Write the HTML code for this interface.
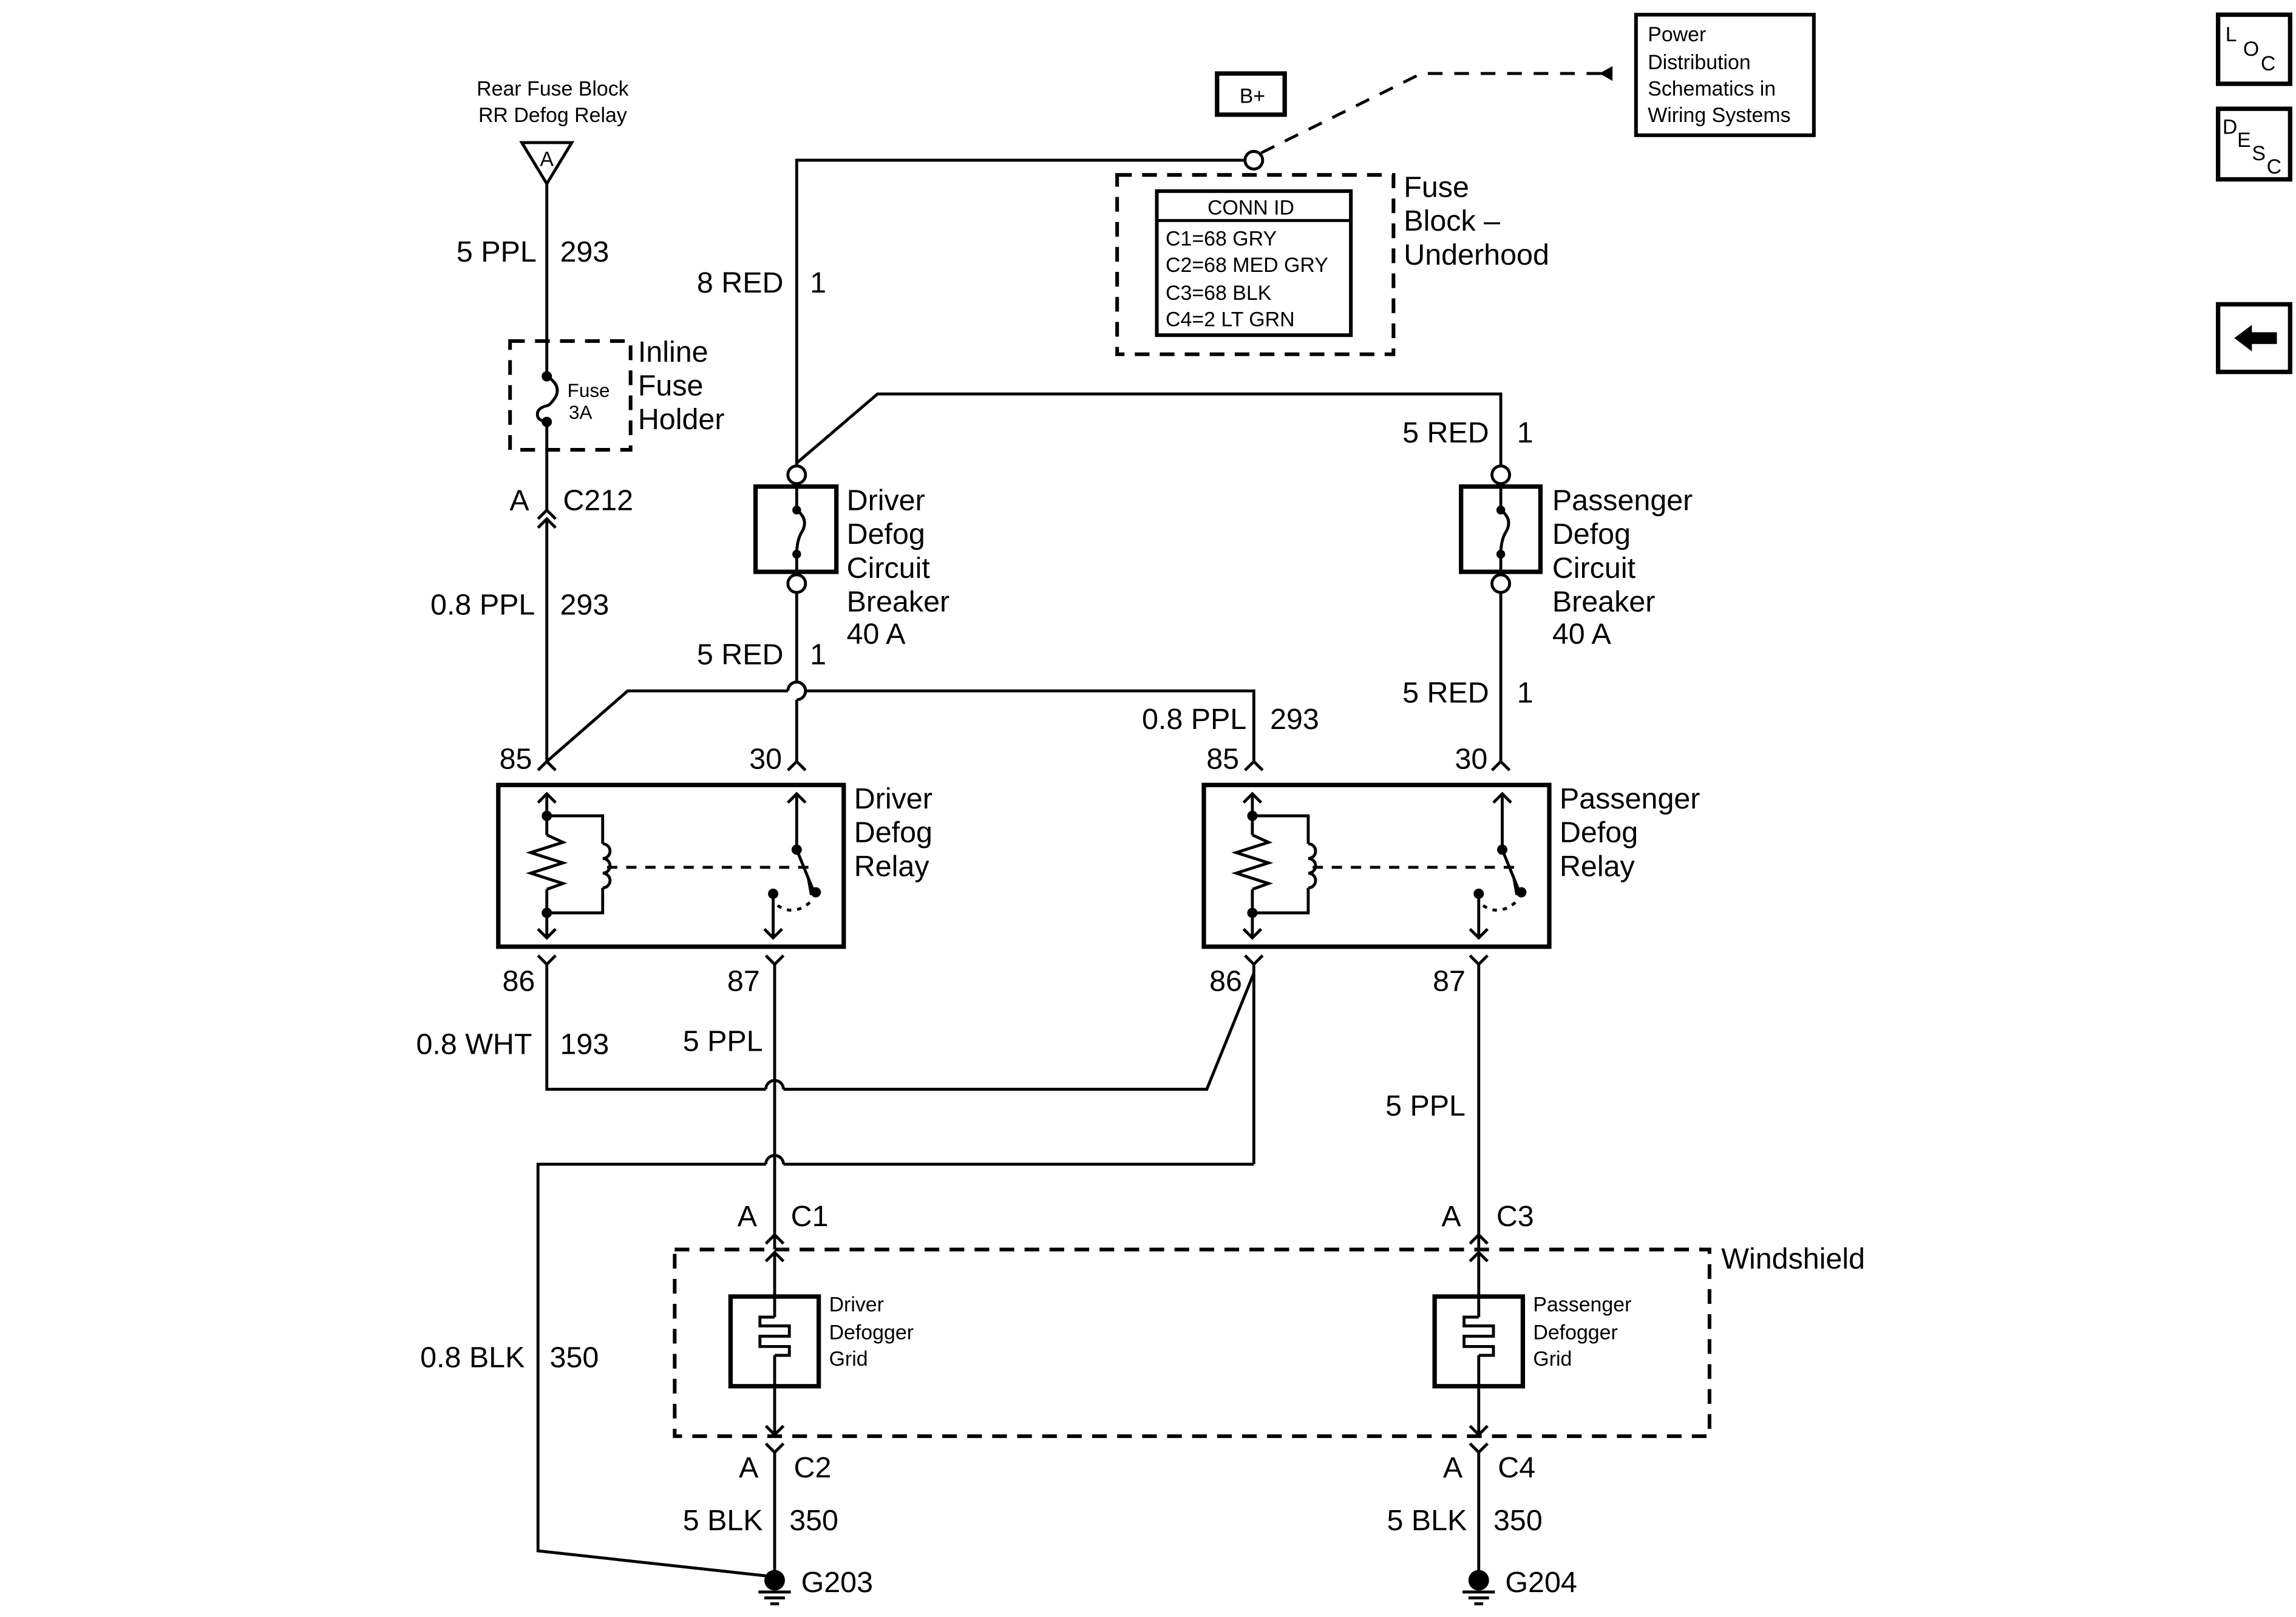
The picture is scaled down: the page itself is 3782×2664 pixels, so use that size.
<!DOCTYPE html>
<html><head><meta charset="utf-8"><style>
html,body{margin:0;padding:0;background:#fff}
svg{display:block}
text{font-family:"Liberation Sans",Arial,sans-serif;fill:#000}
.b{font-size:20px}.s{font-size:14px}
</style></head><body>
<svg width="3782" height="2664" viewBox="0 0 1562 1100" preserveAspectRatio="none" xmlns="http://www.w3.org/2000/svg">
<rect width="1562" height="1100" fill="#fff"/>
<g fill="none" stroke="#000" stroke-width="2">
<!-- rear fuse feed -->
<polygon points="355,97 389,97 372,125"/>
<line x1="372" y1="125" x2="372" y2="256"/>
<path d="M372,256 q10,6 6,14 q-4,6 -6,6 q-8,2 -6,8 q2,3 6,2"/>
<line x1="372" y1="287" x2="372" y2="347"/>
<polyline points="366,353 372,347 378,353"/>
<polyline points="366,359 372,353 378,359"/>
<line x1="372" y1="353" x2="372" y2="518"/>
<rect x="347" y="232" width="82" height="74" stroke-dasharray="10,7" stroke-width="2.5"/>
<!-- B+ and top -->
<rect x="828" y="50" width="46" height="28" stroke-width="3"/>
<circle cx="853" cy="109" r="6" fill="#fff"/>
<polyline points="847,109 542,109 542,317"/>
<polyline points="858,104 967,50 1092,50" stroke-dasharray="10,8"/>
<rect x="1113" y="10" width="121" height="82" stroke-width="2.5"/>
<rect x="760" y="119" width="188" height="122" stroke-dasharray="10,7" stroke-width="2.5"/>
<rect x="787" y="130" width="132" height="98" stroke-width="2.5"/>
<line x1="787" y1="150" x2="919" y2="150"/>
<polyline points="542,315 597,268 1021,268 1021,317"/>
<!-- circuit breakers -->
<rect x="514" y="331" width="55" height="58" stroke-width="3"/>
<circle cx="542" cy="323" r="6" fill="#fff"/>
<circle cx="542" cy="397" r="6" fill="#fff"/>
<line x1="542" y1="329" x2="542" y2="345"/><line x1="542" y1="377" x2="542" y2="391"/>
<path d="M542,347 q8,6 4,14 q-4,6 -4,16"/>
<rect x="994" y="331" width="54" height="58" stroke-width="3"/>
<circle cx="1021" cy="323" r="6" fill="#fff"/>
<circle cx="1021" cy="397" r="6" fill="#fff"/>
<line x1="1021" y1="329" x2="1021" y2="345"/><line x1="1021" y1="377" x2="1021" y2="391"/>
<path d="M1021,347 q8,6 4,14 q-4,6 -4,16"/>
<!-- middle wires -->
<line x1="542" y1="403" x2="542" y2="464"/>
<path d="M542,464 a6,6 0 0 1 0,12"/>
<line x1="542" y1="476" x2="542" y2="518"/>
<polyline points="372,518 427,470 536,470"/>
<polyline points="548,470 853,470 853,518"/>
<path d="M536,470 a6,6 0 0 1 12,0"/>
<line x1="1021" y1="403" x2="1021" y2="518"/>
<polyline points="366,524 372,518 378,524"/><polyline points="536,524 542,518 548,524"/>
<polyline points="847,524 853,518 859,524"/><polyline points="1015,524 1021,518 1027,524"/>
<!-- relays -->
<g id="r1">
<rect x="339" y="534" width="235" height="110" stroke-width="3"/>
<line x1="372" y1="540" x2="372" y2="568"/>
<polyline points="366,546 372,540 378,546"/>
<polyline points="372,568 383,573 361,580 383,587 361,594 383,601 372,605"/>
<line x1="372" y1="605" x2="372" y2="638"/>
<polyline points="366,632 372,638 378,632"/>
<polyline points="372,555 410,555 410,574"/>
<path d="M410,574 a5,5 0 0 1 0,10 a5,5 0 0 1 0,10 a5,5 0 0 1 0,10"/>
<polyline points="410,604 410,621 372,621"/>
<line x1="413" y1="590" x2="552" y2="590" stroke-dasharray="7,6"/>
<line x1="542" y1="540" x2="542" y2="578"/>
<polyline points="536,546 542,540 548,546"/>
<line x1="542" y1="578" x2="553" y2="605"/>
<path d="M529,616 q12,8 24,-4" stroke-dasharray="3,4"/>
<line x1="526" y1="608" x2="526" y2="638"/>
<polyline points="520,632 526,638 532,632"/>
</g>
<use href="#r1" transform="translate(480,0)"/>
<g fill="#000" stroke="none">
<circle cx="372" cy="555" r="3.5"/><circle cx="372" cy="621" r="3.5"/><circle cx="542" cy="578" r="3.5"/><circle cx="555" cy="607" r="3.5"/><circle cx="526" cy="608" r="3.5"/>
<circle cx="852" cy="555" r="3.5"/><circle cx="852" cy="621" r="3.5"/><circle cx="1022" cy="578" r="3.5"/><circle cx="1035" cy="607" r="3.5"/><circle cx="1006" cy="608" r="3.5"/>
<polygon points="549,598 557,608 551,609"/><polygon points="1029,598 1037,608 1031,609"/>
<circle cx="372" cy="256" r="3.5"/><circle cx="372" cy="287" r="3.5"/>
<circle cx="542" cy="347" r="3"/><circle cx="542" cy="377" r="3"/><circle cx="1021" cy="347" r="3"/><circle cx="1021" cy="377" r="3"/>
<polygon points="1088,50 1097,45 1097,55"/>
<circle cx="527" cy="1075" r="7"/><circle cx="1006" cy="1075" r="7"/>
</g>
<!-- lower pins -->
<polyline points="366,650 372,656 378,650"/><polyline points="521,650 527,656 533,650"/>
<polyline points="847,650 853,656 859,650"/><polyline points="1000,650 1006,656 1012,650"/>
<polyline points="372,656 372,741 521,741"/>
<path d="M521,741 a6,6 0 0 1 12,0"/>
<polyline points="533,741 821,741 853,662"/>
<line x1="853" y1="656" x2="853" y2="792"/>
<polyline points="853,792 533,792"/>
<path d="M533,792 a6,6 0 0 0 -12,0"/>
<polyline points="521,792 366,792 366,1055 521,1072"/>
<line x1="527" y1="656" x2="527" y2="850"/>
<line x1="1006" y1="656" x2="1006" y2="850"/>
<polyline points="521,846 527,840 533,846"/>
<polyline points="1000,846 1006,840 1012,846"/>
<!-- windshield -->
<rect x="459" y="850" width="704" height="127" stroke-dasharray="10,7" stroke-width="2.5"/>
<polyline points="521,858 527,852 533,858"/><polyline points="1000,858 1006,852 1012,858"/>
<g id="g1">
<rect x="497" y="882" width="60" height="61" stroke-width="3"/>
<line x1="527" y1="852" x2="527" y2="896"/>
<polyline points="527,896 517,896 517,902 537,902 537,909 517,909 517,916 537,916 537,922 527,922"/>
<line x1="527" y1="922" x2="527" y2="976"/>
<polyline points="521,970 527,976 533,970"/>
<polyline points="521,982 527,988 533,982"/>
<line x1="527" y1="988" x2="527" y2="1072"/>
<line x1="516" y1="1083" x2="538" y2="1083"/><line x1="520" y1="1087" x2="534" y2="1087"/><line x1="524" y1="1091" x2="530" y2="1091"/>
</g>
<use href="#g1" transform="translate(479,0)"/>
<!-- right icons -->
<rect x="1509" y="10" width="49" height="47" stroke-width="3"/>
<rect x="1509" y="74" width="49" height="48" stroke-width="3"/>
<rect x="1509" y="207" width="49" height="46" stroke-width="3"/>
</g>
<polygon points="1520,230 1532,221 1532,226 1549,226 1549,234 1532,234 1532,239" fill="#000"/>
<!-- text -->
<g class="b">
<text x="852" y="70" class="s" text-anchor="middle" font-size="13">B+</text>
<text x="365" y="178" text-anchor="end">5 PPL</text><text x="381" y="178">293</text>
<text x="434" y="246">Inline</text><text x="434" y="269">Fuse</text><text x="434" y="292">Holder</text>
<text x="360" y="347" text-anchor="end">A</text><text x="383" y="347">C212</text>
<text x="364" y="418" text-anchor="end">0.8 PPL</text><text x="381" y="418">293</text>
<text x="533" y="199" text-anchor="end">8 RED</text><text x="551" y="199">1</text>
<text x="955" y="134">Fuse</text><text x="955" y="157">Block –</text><text x="955" y="180">Underhood</text>
<text x="1013" y="301" text-anchor="end">5 RED</text><text x="1032" y="301">1</text>
<text x="576" y="347">Driver</text><text x="576" y="370">Defog</text><text x="576" y="393">Circuit</text><text x="576" y="416">Breaker</text><text x="576" y="438">40 A</text>
<text x="1056" y="347">Passenger</text><text x="1056" y="370">Defog</text><text x="1056" y="393">Circuit</text><text x="1056" y="416">Breaker</text><text x="1056" y="438">40 A</text>
<text x="533" y="452" text-anchor="end">5 RED</text><text x="551" y="452">1</text>
<text x="1013" y="478" text-anchor="end">5 RED</text><text x="1032" y="478">1</text>
<text x="848" y="496" text-anchor="end">0.8 PPL</text><text x="864" y="496">293</text>
<text x="362" y="523" text-anchor="end">85</text><text x="532" y="523" text-anchor="end">30</text>
<text x="843" y="523" text-anchor="end">85</text><text x="1012" y="523" text-anchor="end">30</text>
<text x="581" y="550">Driver</text><text x="581" y="573">Defog</text><text x="581" y="596">Relay</text>
<text x="1061" y="550">Passenger</text><text x="1061" y="573">Defog</text><text x="1061" y="596">Relay</text>
<text x="364" y="674" text-anchor="end">86</text><text x="517" y="674" text-anchor="end">87</text>
<text x="845" y="674" text-anchor="end">86</text><text x="997" y="674" text-anchor="end">87</text>
<text x="362" y="717" text-anchor="end">0.8 WHT</text><text x="381" y="717">193</text>
<text x="519" y="715" text-anchor="end">5 PPL</text>
<text x="997" y="759" text-anchor="end">5 PPL</text>
<text x="515" y="834" text-anchor="end">A</text><text x="538" y="834">C1</text>
<text x="994" y="834" text-anchor="end">A</text><text x="1018" y="834">C3</text>
<text x="1171" y="863">Windshield</text>
<text x="357" y="930" text-anchor="end">0.8 BLK</text><text x="374" y="930">350</text>
<text x="516" y="1005" text-anchor="end">A</text><text x="540" y="1005">C2</text>
<text x="995" y="1005" text-anchor="end">A</text><text x="1019" y="1005">C4</text>
<text x="519" y="1041" text-anchor="end">5 BLK</text><text x="537" y="1041">350</text>
<text x="998" y="1041" text-anchor="end">5 BLK</text><text x="1016" y="1041">350</text>
<text x="545" y="1083">G203</text><text x="1024" y="1083">G204</text>
</g>
<g class="s">
<text x="376" y="65" text-anchor="middle">Rear Fuse Block</text><text x="376" y="83" text-anchor="middle">RR Defog Relay</text>
<text x="372" y="113" text-anchor="middle">A</text>
<text x="386" y="270" font-size="13">Fuse</text><text x="387" y="285" font-size="13">3A</text>
<text x="1121" y="28">Power</text><text x="1121" y="47">Distribution</text><text x="1121" y="65">Schematics in</text><text x="1121" y="83">Wiring Systems</text>
<text x="851" y="146" text-anchor="middle">CONN ID</text>
<text x="793" y="167">C1=68 GRY</text><text x="793" y="185">C2=68 MED GRY</text><text x="793" y="204">C3=68 BLK</text><text x="793" y="222">C4=2 LT GRN</text>
<text x="564" y="892">Driver</text><text x="564" y="911">Defogger</text><text x="564" y="929">Grid</text>
<text x="1043" y="892">Passenger</text><text x="1043" y="911">Defogger</text><text x="1043" y="929">Grid</text>
<text x="1514" y="28">L</text><text x="1526" y="38">O</text><text x="1538" y="48">C</text>
<text x="1512" y="91">D</text><text x="1522" y="100">E</text><text x="1532" y="109">S</text><text x="1542" y="118">C</text>
</g>
</svg>
</body></html>
